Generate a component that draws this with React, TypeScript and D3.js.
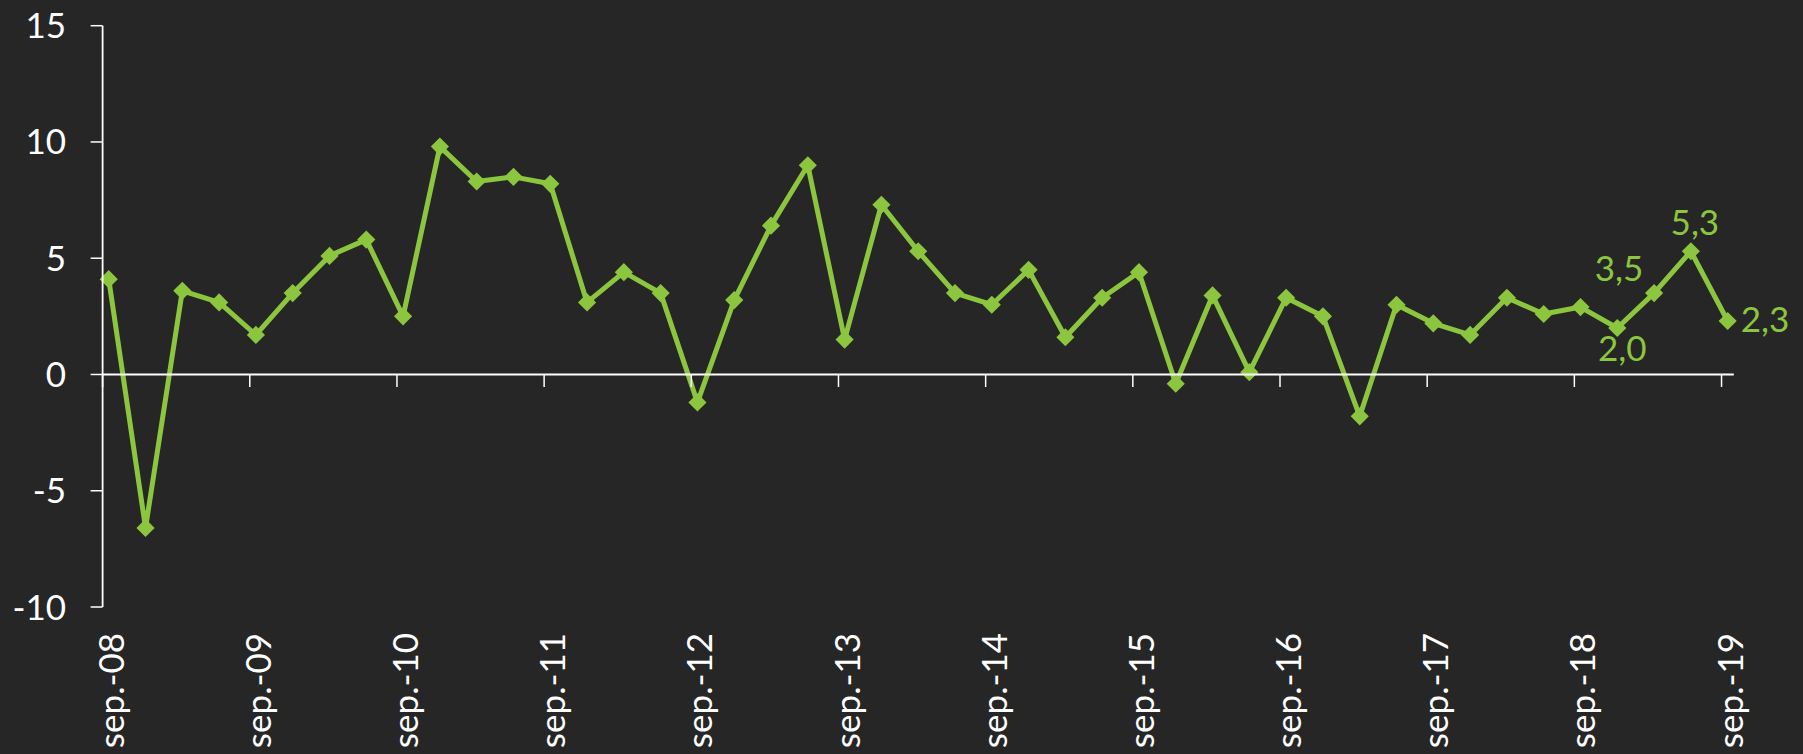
import React from "react";
import * as d3 from "d3";

const quarters = [
  "sep.-08","dic.-08","mar.-09","jun.-09","sep.-09","dic.-09","mar.-10","jun.-10",
  "sep.-10","dic.-10","mar.-11","jun.-11","sep.-11","dic.-11","mar.-12","jun.-12",
  "sep.-12","dic.-12","mar.-13","jun.-13","sep.-13","dic.-13","mar.-14","jun.-14",
  "sep.-14","dic.-14","mar.-15","jun.-15","sep.-15","dic.-15","mar.-16","jun.-16",
  "sep.-16","dic.-16","mar.-17","jun.-17","sep.-17","dic.-17","mar.-18","jun.-18",
  "sep.-18","dic.-18","mar.-19","jun.-19","sep.-19",
];

const values = [
  4.1, -6.6, 3.6, 3.1, 1.7, 3.5, 5.1, 5.8, 2.5, 9.8,
  8.3, 8.5, 8.2, 3.1, 4.4, 3.5, -1.2, 3.2, 6.4, 9.0,
  1.5, 7.3, 5.3, 3.5, 3.0, 4.5, 1.6, 3.3, 4.4, -0.4,
  3.4, 0.1, 3.3, 2.5, -1.8, 3.0, 2.2, 1.7, 3.3, 2.6,
  2.9, 2.0, 3.5, 5.3, 2.3,
];

const yTicks = [-10, -5, 0, 5, 10, 15];
const xTickLabels = ["sep.-08","sep.-09","sep.-10","sep.-11","sep.-12","sep.-13","sep.-14","sep.-15","sep.-16","sep.-17","sep.-18","sep.-19"];

// labelled points: index, text, dx, dy(baseline), anchor
const labelled = [
  { i: 41, text: "2,0", dx: 5, dy: 33.4, anchor: "middle" },
  { i: 42, text: "3,5", dx: -35, dy: -12.4, anchor: "middle" },
  { i: 43, text: "5,3", dx: 4, dy: -16.6, anchor: "middle" },
  { i: 44, text: "2,3", dx: 13, dy: 11.4, anchor: "start" },
];

const W = 1803;
const H = 754;
const BG = "#262626";
const GREEN = "#8cc63f";
const AXIS = "#ffffff";
const FONT = "Lato, 'Open Sans', sans-serif";

export default function App() {
  // month-based date axis: each quarter = 3 months, points centered in month slot
  const x = d3.scaleLinear().domain([0, 133]).range([102.6, 1733.8]);
  const y = d3.scaleLinear().domain([-10, 15]).range([607, 25.7]);
  const px = (i: number) => x(i * 3 + 0.5);
  const py = (v: number) => y(v);

  const line = d3
    .line<number>()
    .x((_, i) => px(i))
    .y((v) => py(v));

  const diamond = d3.symbol(d3.symbolSquare, 165)();
  const y0 = y(0);

  return (
    <svg
      width={W}
      height={H}
      style={{ position: "absolute", left: 0, top: 0, display: "block", background: BG }}
    >
      <rect x={0} y={0} width={W} height={H} fill={BG} />

      {/* series */}
      <path d={line(values) || ""} fill="none" stroke={GREEN} strokeWidth={5} strokeLinejoin="round" />
      {values.map((v, i) => (
        <path
          key={quarters[i]}
          d={diamond || ""}
          transform={`translate(${px(i)},${py(v)}) rotate(45)`}
          fill={GREEN}
        />
      ))}

      {/* y axis */}
      <line x1={x(0)} x2={x(0)} y1={y(15)} y2={y(-10)} stroke={AXIS} strokeWidth={1.8} />
      {yTicks.map((t) => (
        <g key={t}>
          <line x1={x(0) - 12} x2={x(0)} y1={y(t)} y2={y(t)} stroke={AXIS} strokeWidth={1.5} />
          <text
            x={66}
            y={y(t) + 12.5}
            textAnchor="end"
            fill="#ffffff"
            fontFamily={FONT}
            fontSize={35}
          >
            {t}
          </text>
        </g>
      ))}

      {/* x axis at zero */}
      <line x1={x(0)} x2={x(133)} y1={y0} y2={y0} stroke={AXIS} strokeWidth={1.8} />
      {xTickLabels.map((lab, k) => {
        const m = k * 12;
        return (
          <g key={lab}>
            <line x1={x(m)} x2={x(m)} y1={y0} y2={y0 + 12.5} stroke={AXIS} strokeWidth={1.5} />
            <text
              transform={`translate(${x(m + 0.5) + 15},633) rotate(-90)`}
              textAnchor="end"
              fill="#ffffff"
              fontFamily={FONT}
              fontSize={35}
            >
              {lab}
            </text>
          </g>
        );
      })}

      {/* data labels */}
      {labelled.map((l) => (
        <text
          key={l.i}
          x={px(l.i) + l.dx}
          y={py(values[l.i]) + l.dy}
          textAnchor={l.anchor as any}
          fill={GREEN}
          fontFamily={FONT}
          fontSize={35}
        >
          {l.text}
        </text>
      ))}
    </svg>
  );
}
